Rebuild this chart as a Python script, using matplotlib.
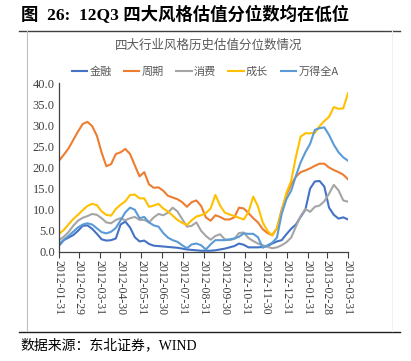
import numpy as np
import pandas as pd
import matplotlib
matplotlib.use("Agg")
import matplotlib.pyplot as plt
from matplotlib.lines import Line2D

# weekly-ish sample dates, 2012-01-31 .. 2013-03-31
dates = pd.date_range("2012-01-31", "2013-03-31", periods=62)

tick_labels = ["2012-01-31", "2012-02-29", "2012-03-31", "2012-04-30", "2012-05-31",
               "2012-06-30", "2012-07-31", "2012-08-31", "2012-09-30", "2012-10-31",
               "2012-11-30", "2012-12-31", "2013-01-31", "2013-02-28", "2013-03-31"]

finance = [1.5, 2.8, 3.4, 4.0, 5.0, 6.2, 6.3, 5.5, 4.3, 3.0,
           2.7, 2.8, 3.2, 6.5, 7.2, 5.8, 3.5, 2.5, 2.7, 1.9,
           1.5, 1.4, 1.3, 1.2, 1.1, 1.0, 0.8, 0.6, 0.5, 0.4,
           0.3, 0.3, 0.3, 0.4, 0.6, 0.8, 1.1, 1.4, 2.0, 1.7,
           1.1, 1.1, 1.1, 1.2, 1.4, 2.0, 2.5, 2.8, 4.2, 5.5,
           6.5, 8.3, 10.0, 15.0, 16.7, 16.8, 15.5, 10.5, 8.8, 7.9,
           8.2, 7.7]

cycle = [21.6, 23.0, 24.5, 26.5, 28.5, 30.3, 30.8, 29.8, 27.5, 23.5,
         20.3, 20.8, 23.2, 23.6, 24.4, 23.2, 20.5, 17.9, 18.9, 16.0,
         15.2, 15.3, 14.5, 13.3, 12.9, 12.5, 11.8, 10.7, 11.8, 12.2,
         10.9, 8.2, 7.4, 8.7, 8.3, 7.7, 7.7, 8.2, 10.5, 10.3,
         9.2, 8.0, 7.0, 5.4, 4.5, 4.0, 5.6, 10.0, 13.5, 16.0,
         17.8, 18.9, 19.3, 19.8, 20.4, 20.9, 20.9, 20.0, 19.4, 18.9,
         18.3, 17.2]

consumer = [2.8, 3.6, 4.7, 6.2, 7.4, 8.1, 8.5, 9.0, 8.8, 8.0,
            7.0, 6.8, 7.6, 8.0, 7.5, 8.0, 8.3, 7.6, 7.6, 7.0,
            8.2, 9.0, 8.7, 9.3, 10.5, 9.6, 7.8, 6.0, 6.2, 7.0,
            5.0, 3.8, 2.9, 3.8, 4.2, 3.0, 2.8, 3.1, 4.5, 4.6,
            3.3, 2.6, 2.0, 1.6, 1.2, 0.9, 1.1, 1.6, 2.3, 3.4,
            6.0, 8.5, 10.2, 9.5, 10.7, 11.0, 12.0, 13.8, 15.9, 14.6,
            12.2, 11.9]

growth = [4.3, 5.2, 6.5, 7.8, 8.8, 9.9, 10.9, 11.4, 11.1, 9.6,
          8.8, 8.6, 10.2, 11.2, 12.0, 13.5, 13.6, 12.7, 12.7, 10.7,
          11.0, 11.4, 10.3, 9.6, 8.6, 7.6, 6.9, 6.4, 7.5, 8.4,
          8.7, 9.2, 10.3, 13.5, 11.0, 9.3, 8.9, 8.5, 8.1, 7.7,
          9.5, 13.1, 10.8, 7.0, 5.0, 3.9, 5.6, 9.5, 14.0, 16.8,
          22.5, 27.3, 28.1, 28.1, 28.2, 29.8, 31.0, 32.0, 34.3, 33.9,
          34.0, 37.6]

wind_a = [1.9, 2.9, 3.8, 4.8, 5.8, 6.5, 6.8, 6.5, 5.6, 4.7,
          4.4, 4.8, 5.7, 7.5, 9.4, 10.5, 10.0, 8.0, 8.3, 7.0,
          6.3, 6.0, 4.5, 3.4, 2.8, 2.4, 1.6, 0.9, 1.8, 2.0,
          1.6, 0.6, 1.8, 2.8, 2.8, 2.8, 3.0, 3.2, 3.6, 4.4,
          4.3, 4.3, 3.5, 1.0, 1.6, 2.2, 3.4, 9.0, 12.5, 14.5,
          18.0, 21.2, 23.6, 25.6, 28.9, 29.3, 29.5, 27.7, 25.4, 23.6,
          22.4, 21.6]

series = [("金融", finance, "#4472C4"),
          ("周期", cycle, "#ED7D31"),
          ("消费", consumer, "#A5A5A5"),
          ("成长", growth, "#FFC000"),
          ("万得全A", wind_a, "#5B9BD5")]

cjk = ["Noto Sans CJK SC", "DejaVu Sans"]
serif_cjk = ["Liberation Serif", "Noto Sans CJK SC"]

fig = plt.figure(figsize=(4.11, 3.61), dpi=100)
ax = fig.add_axes([59 / 411, 1 - 252 / 361, 289 / 411, 169 / 361])

for name, vals, color in series:
    ax.plot(dates, vals, color=color, lw=1.5, label=name)

ax.set_ylim(0, 40)
ax.set_yticks(np.arange(0, 40.1, 5))
ax.set_yticklabels([f"{v:.1f}" for v in np.arange(0, 40.1, 5)],
                   fontfamily="Liberation Serif", fontsize=9, color="#404040")
ticks = pd.to_datetime(tick_labels)
ax.set_xlim(dates[0], dates[-1])
ax.set_xticks(ticks)
ax.set_xticklabels(tick_labels, rotation=270, fontfamily="Liberation Serif",
                   fontsize=8.5, color="#404040")
ax.tick_params(axis="y", length=0, pad=3)
ax.tick_params(axis="x", length=4, width=0.8, color="#404040", pad=2, direction="out")
for s in ["top", "right"]:
    ax.spines[s].set_visible(False)
for s in ["left", "bottom"]:
    ax.spines[s].set_color("#404040")
    ax.spines[s].set_linewidth(0.9)

fig.legend(loc="center", bbox_to_anchor=(205 / 411, 1 - 72 / 361), ncol=5,
           frameon=False, prop={"family": cjk, "size": 8}, labelcolor="#595959",
           handlelength=1.4, handletextpad=0.2, columnspacing=1.1)

fig.text(209 / 411, 1 - 45 / 361, "四大行业风格历史估值分位数情况", ha="center", va="center",
         fontfamily=cjk, fontsize=9, color="#595959")
fig.text(21 / 411, 1 - 15 / 361, "图  26:  12Q3 四大风格估值分位数均在低位", ha="left",
         va="center", fontfamily=serif_cjk, fontsize=12.5, fontweight="bold")
fig.text(20 / 411, 1 - 345 / 361, "数据来源：东北证券，WIND", ha="left", va="center",
         fontfamily=serif_cjk, fontsize=10)

# frame lines
fig.add_artist(Line2D([19 / 411, 400 / 411], [1 - 31 / 361] * 2, color="#404040", lw=1.0))
fig.add_artist(Line2D([19 / 411, 400 / 411], [1 - 332 / 361] * 2, color="#202020", lw=1.0))
fig.add_artist(Line2D([27 / 411] * 2, [1 - 31 / 361, 1 - 331 / 361], color="#BFBFBF", lw=0.8))
fig.add_artist(Line2D([392 / 411] * 2, [1 - 31 / 361, 1 - 331 / 361], color="#F0F0F0", lw=0.8))

fig.savefig("out.png", dpi=100)
